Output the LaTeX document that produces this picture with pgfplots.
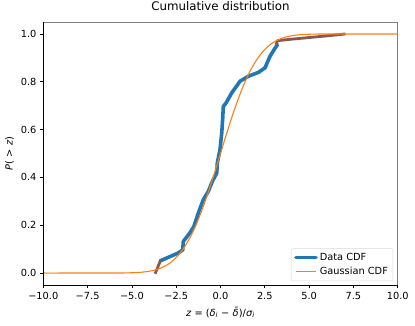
\documentclass[border=0pt]{standalone}
\usepackage{fontspec}
\setmainfont{DejaVu Sans}
\usepackage{pgfplots}
\pgfplotsset{compat=1.18}
\definecolor{mplblue}{HTML}{1F77B4}
\definecolor{mplorange}{HTML}{FF7F0E}
\definecolor{mplbrown}{HTML}{8C564B}

\begin{document}
\begin{tikzpicture}
\path[use as bounding box] (-43.3pt,-40pt) rectangle (371.7pt,285pt);
\begin{axis}[
  at={(0,0)}, anchor=south west,
  scale only axis, width=354.4pt, height=263pt,
  xmin=-10, xmax=10, ymin=-0.05, ymax=1.05,
  xtick={-10,-7.5,-5,-2.5,0,2.5,5,7.5,10},
  xticklabels={−10.0,−7.5,−5.0,−2.5,0.0,2.5,5.0,7.5,10.0},
  ytick={0,0.2,0.4,0.6,0.8,1.0},
  yticklabels={0.0,0.2,0.4,0.6,0.8,1.0},
  xtick pos=bottom, ytick pos=left,
  tick align=outside, major tick length=3.4pt,
  tick style={black, line width=0.7pt},
  ticklabel style={font=\fontsize{9.8}{11}\selectfont},
  axis line style={draw=gray, line width=0.8pt},
  title={Cumulative distribution},
  title style={font=\fontsize{11.8}{13}\selectfont, at={(axis description cs:0.5,1)}, anchor=base, yshift=6pt},
  xlabel={\textit{z} = (\textit{δ}\textsubscript{\textit{i}} − \textit{δ̄})/\textit{σ}\textsubscript{\textit{i}}},
  xlabel style={font=\fontsize{9.8}{11}\selectfont, at={(axis description cs:0.5,-0.118)}, anchor=base},
  ylabel={\textit{P}( > \textit{z})},
  ylabel style={font=\fontsize{9.8}{11}\selectfont, at={(axis description cs:-0.0954,0.5)}, anchor=center},
  legend style={at={(rel axis cs:0.987,0.015)}, anchor=south east,
    draw=gray!30, rounded corners=2pt, fill=white,
    font=\fontsize{9.8}{11}\selectfont, inner xsep=3pt, inner ysep=2.5pt, row sep=1.5pt},
  legend cell align=left,
  legend image code/.code={\draw[#1] (0pt,0pt) -- (20pt,0pt);},
  after end axis/.code={
    \draw[black, line width=0.8pt] (rel axis cs:0,1) -- (rel axis cs:0,0) -- (rel axis cs:1,0);
  },
]
% data CDF
\addplot[mplblue, line width=3.6pt, line join=round, line cap=round] coordinates {
  (-3.40,0.051) (-2.75,0.072) (-2.38,0.084) (-2.13,0.097) (-2.10,0.132)
  (-1.72,0.169) (-1.50,0.195) (-1.25,0.251) (-0.97,0.307) (-0.69,0.341)
  (-0.45,0.385) (-0.21,0.418) (-0.18,0.460) (-0.03,0.516) (0.07,0.586)
  (0.12,0.641) (0.16,0.697) (0.31,0.711) (0.63,0.753) (1.10,0.802)
  (1.57,0.823) (2.13,0.839) (2.51,0.858) (2.79,0.906) (3.02,0.934)
  (3.21,0.955)
};
\addlegendentry{Data CDF}
% tails
\addplot[mplbrown, line width=2.8pt, forget plot] coordinates {
  (-3.69,-0.003) (-3.37,0.055)
};
\addplot[mplbrown, line width=2.8pt, line join=round, forget plot] coordinates {
  (3.13,0.955) (3.22,0.972) (4.0,0.978) (5.0,0.985) (6.0,0.992) (7.05,1.0)
};
% gaussian CDF
\addplot[mplorange, line width=1.1pt, smooth] coordinates {
  (-10,0.0) (-6,0.00014) (-5,0.0012) (-4.5,0.0032) (-4,0.0077)
  (-3.5,0.0170) (-3,0.0345) (-2.75,0.0478) (-2.5,0.0649) (-2.25,0.0864)
  (-2,0.1128) (-1.75,0.1444) (-1.5,0.1817) (-1.25,0.2243) (-1,0.2722)
  (-0.75,0.3247) (-0.5,0.3809) (-0.25,0.4398) (0,0.5) (0.25,0.5602)
  (0.5,0.6191) (0.75,0.6753) (1,0.7278) (1.25,0.7757) (1.5,0.8183)
  (1.75,0.8556) (2,0.8872) (2.25,0.9136) (2.5,0.9351) (2.75,0.9522)
  (3,0.9655) (3.5,0.9830) (4,0.9923) (4.5,0.9968) (5,0.9988)
  (6,0.99986) (10,1.0)
};
\addlegendentry{Gaussian CDF}
\end{axis}
\end{tikzpicture}
\end{document}
